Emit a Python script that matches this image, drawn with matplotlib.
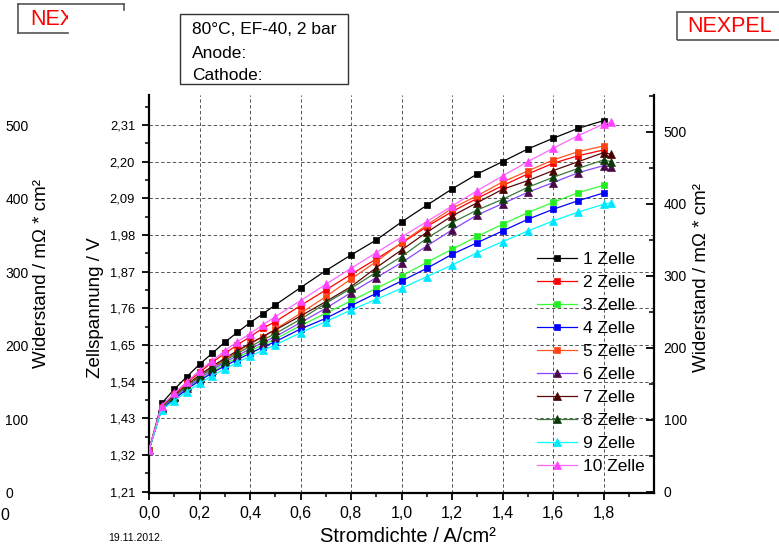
import matplotlib
matplotlib.use('Agg')
import matplotlib.pyplot as plt
from matplotlib.patches import Rectangle
from matplotlib.lines import Line2D
from matplotlib.ticker import FixedLocator
import numpy as np

plt.rcParams['font.family'] = ['Liberation Sans', 'DejaVu Sans']

# ---------------- data ----------------
x_sq = [0.0, 0.05, 0.1, 0.15, 0.2, 0.25, 0.3, 0.35, 0.4, 0.45, 0.5,
        0.6, 0.7, 0.8, 0.9, 1.0, 1.1, 1.2, 1.3, 1.4, 1.5, 1.6, 1.7, 1.8]
x_tri = [0.0, 0.05, 0.1, 0.15, 0.2, 0.25, 0.3, 0.35, 0.4, 0.45, 0.5,
         0.6, 0.7, 0.8, 0.9, 1.0, 1.1, 1.2, 1.3, 1.4, 1.5, 1.6, 1.7, 1.8, 1.83]

zelle1 = [1.335, 1.475, 1.517, 1.555, 1.592, 1.625, 1.658, 1.688, 1.717, 1.743, 1.770,
          1.822, 1.873, 1.920, 1.965, 2.019, 2.069, 2.118, 2.163, 2.200, 2.238, 2.270, 2.300, 2.323]
zelle2 = [1.335, 1.465, 1.502, 1.536, 1.568, 1.598, 1.625, 1.650, 1.675, 1.700, 1.720,
          1.768, 1.815, 1.862, 1.908, 1.955, 2.005, 2.050, 2.090, 2.128, 2.163, 2.195, 2.218, 2.235]
zelle3 = [1.335, 1.460, 1.490, 1.520, 1.547, 1.570, 1.592, 1.612, 1.632, 1.650, 1.668,
          1.708, 1.745, 1.782, 1.820, 1.857, 1.898, 1.937, 1.976, 2.012, 2.047, 2.078, 2.107, 2.129]
zelle4 = [1.335, 1.458, 1.488, 1.517, 1.543, 1.566, 1.587, 1.606, 1.625, 1.643, 1.660,
          1.698, 1.730, 1.768, 1.805, 1.842, 1.880, 1.922, 1.957, 1.992, 2.027, 2.057, 2.083, 2.106]
zelle5 = [1.335, 1.462, 1.497, 1.528, 1.557, 1.583, 1.607, 1.630, 1.652, 1.675, 1.697,
          1.745, 1.795, 1.848, 1.900, 1.957, 2.010, 2.060, 2.098, 2.139, 2.172, 2.205, 2.230, 2.247]
zelle6 = [1.335, 1.460, 1.493, 1.522, 1.550, 1.575, 1.598, 1.618, 1.638, 1.657, 1.675,
          1.717, 1.760, 1.807, 1.852, 1.897, 1.947, 1.995, 2.040, 2.074, 2.108, 2.137, 2.167, 2.188, 2.185]
zelle7 = [1.335, 1.463, 1.498, 1.530, 1.560, 1.586, 1.610, 1.633, 1.655, 1.675, 1.695,
          1.737, 1.780, 1.825, 1.882, 1.935, 1.988, 2.037, 2.077, 2.117, 2.143, 2.173, 2.200, 2.227, 2.222]
zelle8 = [1.335, 1.462, 1.495, 1.527, 1.555, 1.580, 1.603, 1.625, 1.645, 1.665, 1.684,
          1.727, 1.775, 1.820, 1.868, 1.915, 1.970, 2.017, 2.055, 2.087, 2.123, 2.153, 2.180, 2.205, 2.200]
zelle9 = [1.335, 1.455, 1.483, 1.510, 1.535, 1.558, 1.578, 1.598, 1.616, 1.634, 1.650,
          1.687, 1.720, 1.755, 1.787, 1.820, 1.855, 1.890, 1.927, 1.960, 1.992, 2.022, 2.049, 2.072, 2.077]
zelle10 = [1.335, 1.468, 1.505, 1.540, 1.573, 1.603, 1.633, 1.660, 1.684, 1.710, 1.735,
           1.783, 1.832, 1.880, 1.927, 1.974, 2.020, 2.067, 2.113, 2.157, 2.200, 2.240, 2.278, 2.313, 2.318]

labels = ['1 Zelle', '2 Zelle', '3 Zelle', '4 Zelle', '5 Zelle',
          '6 Zelle', '7 Zelle', '8 Zelle', '9 Zelle', '10 Zelle']

x_ticks = [0.0, 0.2, 0.4, 0.6, 0.8, 1.0, 1.2, 1.4, 1.6, 1.8]
x_tick_labels = ['0,0', '0,2', '0,4', '0,6', '0,8', '1,0', '1,2', '1,4', '1,6', '1,8']
y_ticks = [1.21, 1.32, 1.43, 1.54, 1.65, 1.76, 1.87, 1.98, 2.09, 2.20, 2.31]
y_tick_labels = ['1,21', '1,32', '1,43', '1,54', '1,65', '1,76', '1,87', '1,98', '2,09', '2,20', '2,31']
r_ticks = [0, 100, 200, 300, 400, 500]

# ---------------- styles ----------------
series = [
    (x_sq, zelle1, 's', '#000000', '#000000'),
    (x_sq, zelle2, 's', '#ff0000', '#ff0000'),
    (x_sq, zelle3, 's', '#33ff33', '#22ee22'),
    (x_sq, zelle4, 's', '#0000ff', '#0000ff'),
    (x_sq, zelle5, 's', '#ff5522', '#ff4411'),
    (x_tri, zelle6, '^', '#8844ff', '#4a0a4a'),
    (x_tri, zelle7, '^', '#5a0808', '#4a0000'),
    (x_tri, zelle8, '^', '#3a7a3a', '#0a3a0a'),
    (x_tri, zelle9, '^', '#00ffff', '#00e8ff'),
    (x_tri, zelle10, '^', '#ff66ff', '#ff44ff'),
]

W, H = 779, 550
fig = plt.figure(figsize=(W / 100, H / 100), dpi=100)


def fx(px):
    return px / W


def fy(py):
    return 1 - py / H


L, R, T, B = 149, 654, 95, 493
ax = fig.add_axes([fx(L), fy(B), (R - L) / W, (B - T) / H])
ax.set_xlim(0, 2.0)
ax.set_ylim(1.206, 2.40)

grid_kw = dict(color='#555555', lw=0.7, linestyle=(0, (3.5, 2.5)), zorder=0)
ax.set_xticks(x_ticks)
ax.set_xticklabels(x_tick_labels)
ax.set_yticks(y_ticks)
ax.set_yticklabels(y_tick_labels)
ax.xaxis.set_minor_locator(FixedLocator(np.arange(0.1, 2.01, 0.2)))
ax.yaxis.set_minor_locator(FixedLocator(np.arange(1.265, 2.40, 0.11)))
ax.grid(True, which='major', **grid_kw)

ax.spines['top'].set_visible(False)
ax.spines['right'].set_visible(False)
ax.spines['left'].set_linewidth(1.6)
ax.spines['bottom'].set_linewidth(1.6)
ax.tick_params(axis='x', which='major', direction='out', length=5, width=1.3, pad=4, labelsize=11.5)
ax.tick_params(axis='x', which='minor', direction='out', length=3, width=1.1)
ax.tick_params(axis='y', which='major', direction='out', length=5, width=1.3, pad=5, labelsize=9.3)
ax.tick_params(axis='y', which='minor', direction='out', length=3, width=1.1)

for (xs, ys, mk, lc, mc), lab in zip(series, labels):
    ax.plot(xs, ys, color=lc, lw=0.9, marker=mk, markersize=4.8 if mk == 's' else 5.4,
            markerfacecolor=mc, markeredgecolor=mc, markeredgewidth=0.5, label=lab, zorder=3)

leg = ax.legend(loc='upper left', bbox_to_anchor=(fx(537), fy(252)), bbox_transform=fig.transFigure,
                frameon=False, fontsize=12.5, labelspacing=0.45, handlelength=2.3,
                handletextpad=0.35, borderpad=0, borderaxespad=0, numpoints=1)

# right axis
ax2 = ax.twinx()
ax2.set_ylim(-1.4, 551)
ax2.set_yticks(r_ticks)
ax2.yaxis.set_minor_locator(FixedLocator(np.arange(50, 551, 100)))
for sp in ['top', 'left', 'bottom']:
    ax2.spines[sp].set_visible(False)
ax2.spines['right'].set_linewidth(1.6)
ax2.tick_params(axis='y', which='major', direction='in', length=6, width=1.3, pad=7, labelsize=10)
ax2.tick_params(axis='y', which='minor', direction='in', length=3.5, width=1.1)

# ghost left panel (cut off)
axg = fig.add_axes([fx(-200), fy(B), 197 / W, (B - T) / H])
axg.set_ylim(0, 540.8)
axg.set_yticks(r_ticks)
axg.yaxis.tick_right()
axg.tick_params(axis='y', length=0, pad=6, labelsize=10)
axg.set_xticks([])
axg.patch.set_visible(False)
for sp in axg.spines.values():
    sp.set_visible(False)

# text labels
fig.text(fx(95), fy(308), 'Zellspannung / V', rotation=90, ha='center', va='center', fontsize=13.5)
fig.text(fx(701), fy(277), 'Widerstand / mΩ * cm²', rotation=90, ha='center', va='center', fontsize=13.5)
fig.text(fx(42), fy(273), 'Widerstand / mΩ * cm²', rotation=90, ha='center', va='center', fontsize=13.5)
fig.text(fx(408), fy(536), 'Stromdichte / A/cm²', ha='center', va='center', fontsize=14.5)
fig.text(fx(108), fy(538), '19.11.2012.', ha='left', va='center', fontsize=7.5)
fig.text(fx(0.5), fy(515), '0', ha='left', va='center', fontsize=11.5)

# info box
fig.patches.append(Rectangle((fx(180), fy(84)), (348 - 180) / W, (84 - 14) / H,
                             transform=fig.transFigure, fill=False, edgecolor='#333333', lw=1.0))
fig.text(fx(192), fy(34.5), '80°C, EF-40, 2 bar', ha='left', va='baseline', fontsize=12.5)
fig.text(fx(192), fy(57.5), 'Anode:', ha='left', va='baseline', fontsize=12.5)
fig.text(fx(192), fy(80.5), 'Cathode:', ha='left', va='baseline', fontsize=12.5)

# NEXPEL right box
fig.patches.append(Rectangle((fx(677), fy(40)), (800 - 677) / W, (40 - 12) / H,
                             transform=fig.transFigure, fill=False, edgecolor='#555555', lw=1.2))
fig.text(fx(687), fy(27), 'NEXPEL', ha='left', va='center', fontsize=15.5, color='#ff0000')

# NEXPEL left box (partly covered)
fig.text(fx(30), fy(19.5), 'NEXPEL', ha='left', va='center', fontsize=15.5, color='#ff0000', zorder=2)
fig.patches.append(Rectangle((fx(68), fy(45)), (140 - 68) / W, (45 - 9) / H,
                             transform=fig.transFigure, facecolor='white', edgecolor='none', zorder=4))
for (x0, y0, x1, y1) in [(18, 4, 124, 4), (124, 4, 124, 10), (18, 4, 18, 33), (18, 33, 68, 33)]:
    fig.lines.append(Line2D([fx(x0), fx(x1)], [fy(y0), fy(y1)], transform=fig.transFigure,
                            color='#555555', lw=1.2, zorder=5))

fig.savefig('out.png', dpi=100)
